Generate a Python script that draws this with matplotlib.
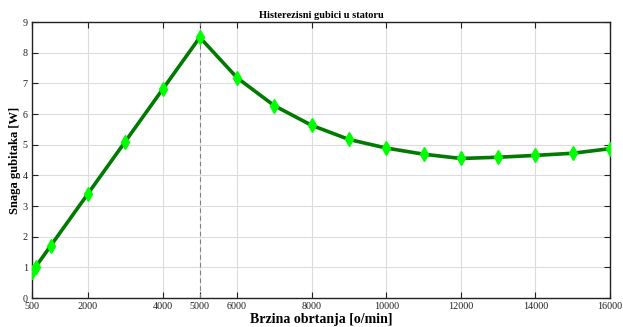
import numpy as np
import matplotlib.pyplot as plt

plt.rcParams['font.family'] = ['Liberation Serif', 'DejaVu Serif']

brzina = [500, 600, 1000, 2000, 3000, 4000, 5000, 6000, 7000, 8000,
          9000, 10000, 11000, 12000, 13000, 14000, 15000, 16000]
snaga = [0.85, 1.02, 1.7, 3.4, 5.1, 6.8, 8.5, 7.18, 6.27, 5.63,
         5.17, 4.89, 4.69, 4.55, 4.59, 4.65, 4.72, 4.87]
x_ticks = [500, 2000, 4000, 5000, 6000, 8000, 10000, 12000, 14000, 16000]

fig = plt.figure(figsize=(6.23, 3.27), dpi=100)
ax = fig.add_axes([32/623, 29/327, 578/623, 276/327])

ax.axvline(5000, color='#808080', linestyle='--', linewidth=0.8, dashes=(4, 3))
ax.plot(brzina, snaga, color='#007a00', linewidth=2.6, marker='d',
        markersize=7, markerfacecolor='#00ff00', markeredgecolor='#00ff00', zorder=3)

ax.set_xlim(500, 16000)
ax.set_ylim(0, 9)
ax.set_xticks(x_ticks)
ax.set_yticks(range(10))
ax.grid(True, color='#dcdcdc', linewidth=0.8)
ax.tick_params(direction='in', top=True, right=True, labelsize=7.3, colors='#222222',
               length=4, width=0.8, pad=3)
for s in ax.spines.values():
    s.set_linewidth(1.0)
    s.set_color('#222222')

ax.set_title('Histerezisni gubici u statoru', fontsize=7.5, fontweight='bold', pad=3)
ax.set_xlabel('Brzina obrtanja [o/min]', fontsize=10, fontweight='bold', labelpad=1)
ax.set_ylabel('Snaga gubitaka [W]', fontsize=9, fontweight='bold')
ax.yaxis.set_label_coords(-0.019, 0.5)

fig.savefig('out.png', dpi=100)
